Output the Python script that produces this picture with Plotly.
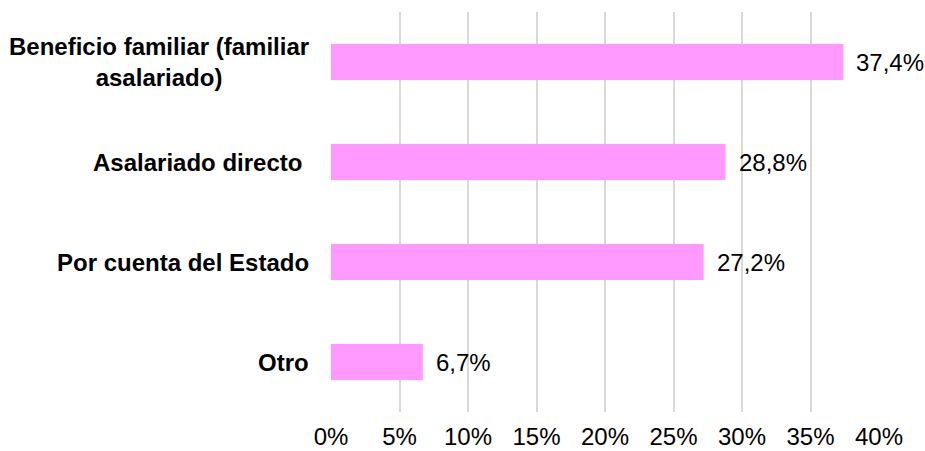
import plotly.graph_objects as go

categories = ["Beneficio familiar (familiar<br>asalariado)", "Asalariado directo\u00a0",
              "Por cuenta del Estado", "Otro"]
values = [37.4, 28.8, 27.2, 6.7]
value_labels = ["37,4%", "28,8%", "27,2%", "6,7%"]
x_ticks = [0, 5, 10, 15, 20, 25, 30, 35, 40]
x_tick_labels = ["0%", "5%", "10%", "15%", "20%", "25%", "30%", "35%", "40%"]

FONT = "Liberation Sans, Arial, sans-serif"

fig = go.Figure()
fig.add_trace(go.Bar(
    x=values, y=categories, orientation="h",
    marker=dict(color="#FF99FF", line=dict(width=0)),
    hoverinfo="skip",
))

annotations = []
for c, v, t in zip(categories, values, value_labels):
    annotations.append(dict(x=v, y=c, xref="x", yref="y", text=t, showarrow=False,
                            xanchor="left", yanchor="middle", xshift=11,
                            font=dict(family=FONT, size=24, color="#000000")))
    annotations.append(dict(x=0, y=c, xref="paper", yref="y", text="<b>%s</b>" % c,
                            showarrow=False, xanchor="right", yanchor="middle",
                            align="center", xshift=-20,
                            font=dict(family=FONT, size=24, color="#000000")))

fig.update_layout(
    width=925, height=451,
    margin=dict(l=331, r=46, t=12, b=39),
    paper_bgcolor="white", plot_bgcolor="white",
    bargap=0.64,
    showlegend=False,
    annotations=annotations,
    xaxis=dict(range=[0, 40], tickvals=x_ticks, ticktext=x_tick_labels,
               showgrid=True, gridcolor="#D9D9D9", gridwidth=1.5,
               zeroline=False, showline=False, ticks="",
               tickfont=dict(family=FONT, size=24, color="#000000"),
               ticklabelstandoff=8,
               automargin=False, fixedrange=True),
    yaxis=dict(categoryorder="array", categoryarray=categories, autorange="reversed",
               showticklabels=False, showgrid=False, zeroline=False, showline=False,
               automargin=False, fixedrange=True),
)

fig.write_html("out.html", config={"displayModeBar": False},
               post_script="document.body.style.margin='0';document.body.style.overflow='hidden';")
